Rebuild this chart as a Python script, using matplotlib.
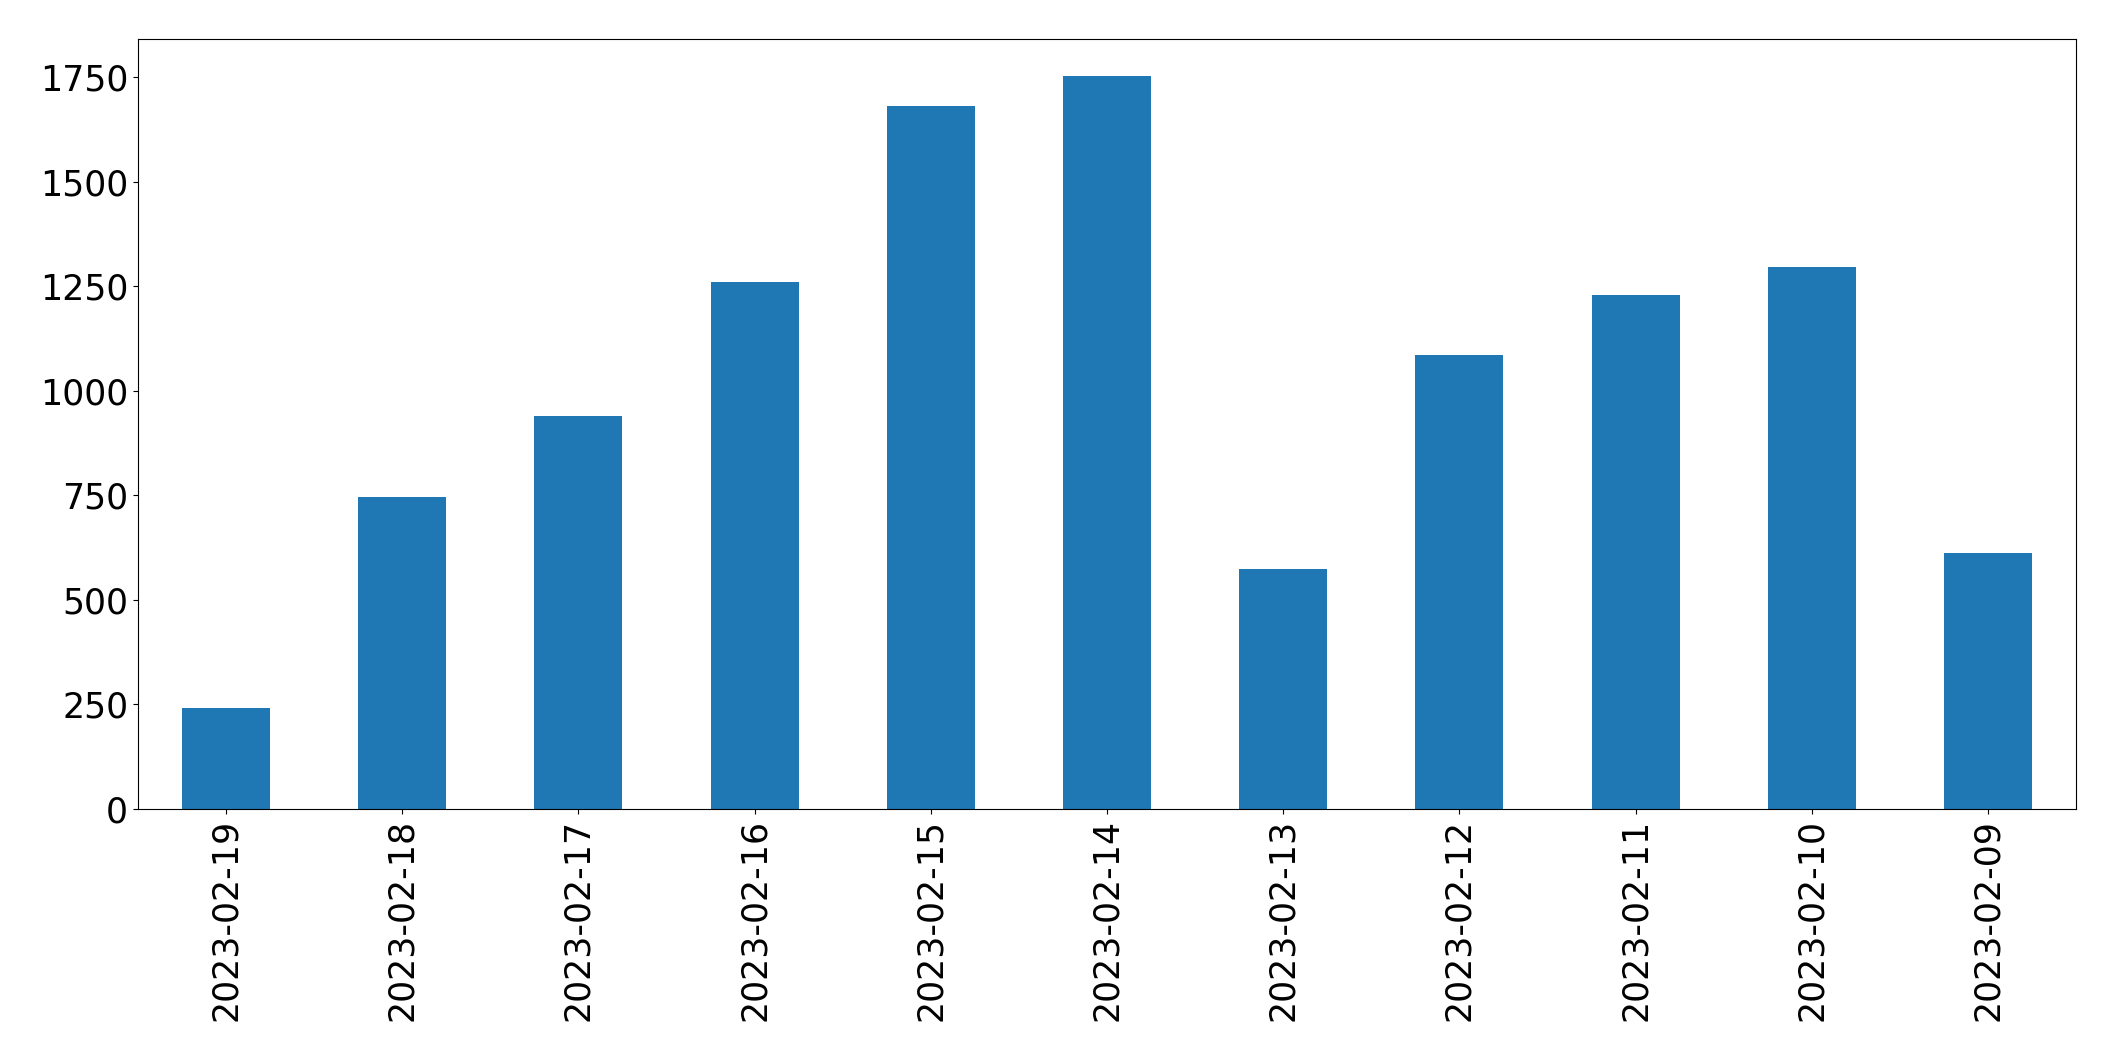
import matplotlib
matplotlib.use("Agg")
import matplotlib.pyplot as plt

dates = ["2023-02-19", "2023-02-18", "2023-02-17", "2023-02-16", "2023-02-15",
         "2023-02-14", "2023-02-13", "2023-02-12", "2023-02-11", "2023-02-10",
         "2023-02-09"]
counts = [242, 747, 940, 1261, 1682, 1754, 574, 1086, 1230, 1297, 613]

fig = plt.figure(figsize=(21.15, 10.61), dpi=100)
ax = fig.add_axes([0.0652, 0.2375, 0.9164, 0.7257])
x = list(range(len(dates)))
ax.bar(x, counts, width=0.5, color="#1f77b4")
ax.set_xlim(-0.5, len(dates) - 0.5)
ax.set_xticks(x)
ax.set_xticklabels(dates, rotation=90)
ax.tick_params(axis="both", labelsize=25)
fig.savefig("out.png", dpi=100)
